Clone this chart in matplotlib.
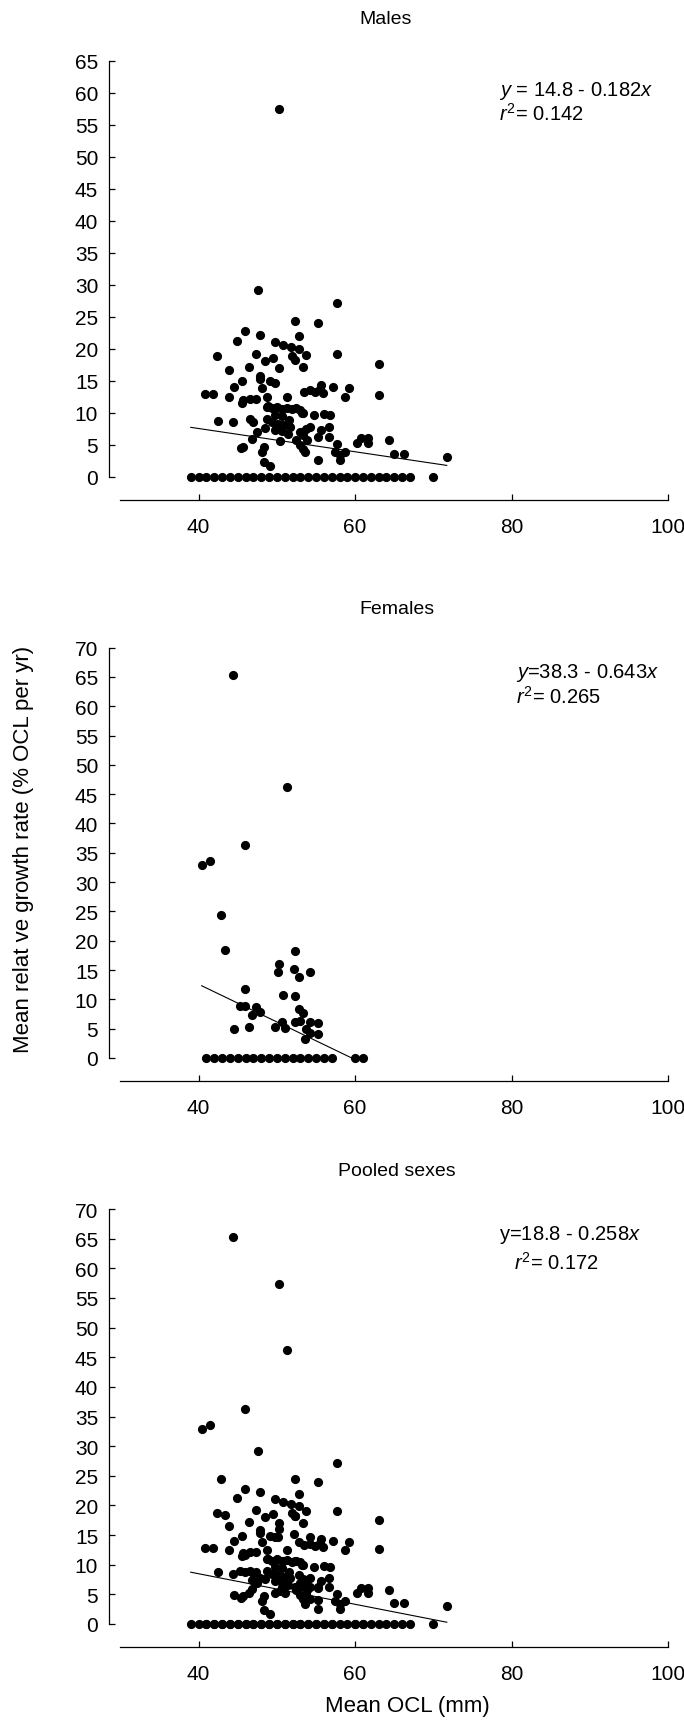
import numpy as np
import matplotlib.pyplot as plt

plt.rcParams['font.family'] = ['Liberation Sans', 'DejaVu Sans']
plt.rcParams['mathtext.fontset'] = 'custom'
plt.rcParams['mathtext.rm'] = 'Liberation Sans'
plt.rcParams['mathtext.it'] = 'Liberation Sans:italic'

# Males: non-zero growth records (mean OCL mm, growth % OCL per yr)
males_x = [50.3, 47.6, 57.7, 52.3, 55.3, 45.9, 47.8, 52.8, 44.9, 49.8,
           50.8, 51.8, 52.8, 53.7, 42.4, 47.3, 49.5, 48.5, 51.9, 52.3,
           57.7, 46.4, 50.3, 53.4, 63.0, 43.9, 47.9, 47.9, 45.5, 49.1,
           49.8, 44.5, 48.1, 55.7, 57.2, 59.2, 53.5, 54.2, 54.9, 55.5,
           55.9, 40.8, 41.9, 43.9, 45.7, 46.6, 47.3, 45.6, 48.8, 51.3,
           58.7, 63.1, 48.9, 48.7, 49.4, 50.0, 50.6, 51.3, 51.9, 52.5,
           53.0, 53.4, 54.7, 56.0, 56.8, 48.7, 49.8, 50.6, 51.5, 53.2,
           42.5, 44.4, 46.6, 47.0, 49.4, 50.1, 50.8, 51.7, 49.8, 50.6,
           48.5, 53.0, 53.4, 53.8, 47.5, 53.7, 54.2, 55.7, 56.7, 46.8,
           45.7, 45.4, 48.3, 48.1, 48.4, 49.1, 50.4, 51.4, 52.5, 53.0,
           53.4, 53.6, 55.3, 56.6, 57.7, 57.4, 58.0, 58.0, 58.7, 55.2,
           60.2, 60.8, 61.7, 61.7, 64.3, 65.0, 66.2, 71.7]
males_y = [57.4, 29.1, 27.1, 24.4, 24.0, 22.8, 22.2, 22.0, 21.2, 21.1,
           20.6, 20.2, 19.9, 19.0, 18.8, 19.2, 18.5, 18.1, 18.8, 18.2,
           19.1, 17.2, 17.0, 17.1, 17.6, 16.6, 15.8, 15.3, 14.9, 14.9,
           14.6, 14.0, 13.9, 14.3, 14.0, 13.8, 13.3, 13.5, 13.2, 13.7,
           13.0, 12.9, 12.9, 12.5, 11.9, 12.1, 12.2, 11.5, 12.4, 12.4,
           12.5, 12.7, 11.0, 10.9, 10.7, 10.9, 10.6, 10.8, 10.5, 10.7,
           10.4, 10.0, 9.6, 9.8, 9.6, 9.0, 9.6, 9.4, 8.8, 9.9,
           8.7, 8.5, 9.0, 8.6, 8.5, 8.2, 8.0, 7.8, 7.3, 7.1,
           7.6, 7.0, 6.5, 5.7, 7.0, 7.5, 7.8, 7.3, 7.8, 5.9,
           4.7, 4.4, 4.7, 3.9, 2.3, 1.7, 5.5, 6.6, 5.7, 4.9,
           4.3, 3.9, 6.2, 6.2, 5.1, 3.9, 3.4, 2.6, 3.9, 2.6,
           5.2, 6.0, 6.0, 5.2, 5.7, 3.6, 3.5, 3.1]
males_zero_x = [39, 40, 41, 42, 43, 44, 45, 46, 47, 48, 49, 50, 51, 52, 53,
                54, 55, 56, 57, 58, 59, 60, 61, 62, 63, 64, 65, 66, 67, 70]

# Females
females_x = [44.4, 51.3, 45.9, 40.4, 41.4, 42.9, 43.4, 52.3, 50.3, 50.1,
             52.2, 52.8, 54.2, 45.9, 50.8, 52.3, 45.3, 45.9, 47.3, 47.9,
             46.8, 52.8, 53.3, 52.3, 52.9, 50.6, 49.8, 51.1, 44.5, 46.4,
             54.2, 55.3, 53.7, 54.2, 55.3, 53.6]
females_y = [65.3, 46.2, 36.3, 32.9, 33.6, 24.4, 18.4, 18.2, 16.0, 14.6,
             15.1, 13.9, 14.7, 11.7, 10.7, 10.6, 8.9, 8.8, 8.7, 7.8,
             7.4, 8.3, 7.6, 6.2, 6.3, 6.2, 5.3, 5.2, 4.9, 5.3,
             6.2, 6.0, 5.0, 4.2, 4.1, 3.3]
females_zero_x = [41, 42, 43, 44, 45, 46, 47, 48, 49, 50, 51, 52, 53, 54,
                  55, 56, 57, 60, 61]

panel_titles = ['Males', 'Females', 'Pooled sexes']
fit_intercepts = [14.8, 38.3, 18.8]
fit_slopes = [-0.182, -0.643, -0.258]
eq_texts = ['$y$ = 14.8 - 0.182$x$', '$y$=38.3 - 0.643$x$', 'y=18.8 - 0.258$x$']
r2_texts = ['$r^2$= 0.142', '$r^2$= 0.265', '$r^2$= 0.172']
y_tops = [65, 70, 70]

def full(xs, ys, zx):
    return list(xs) + list(zx), list(ys) + [0] * len(zx)

mx, my = full(males_x, males_y, males_zero_x)
fx, fy = full(females_x, females_y, females_zero_x)
series = [(mx, my), (fx, fy), (mx + fx, my + fy)]

W, H = 684, 1731
fig = plt.figure(figsize=(W / 100, H / 100), dpi=100)

# pixel layout: (top of y spine, zero line, x axis line)
layout = [(61.8, 477.6, 501), (648.6, 1059, 1082), (1210, 1625, 1648)]
title_pos = [(386, 19), (397, 610), (397, 1171)]
eq_pos = [(499, 91.5, 499, 113.6), (516, 673, 516, 697), (499, 1235, 514, 1263)]
left_px, right_px = 109.3, 676.2
xmin, xmax = 28.6, 101.0

for i in range(3):
    top, zero, axis = layout[i]
    ax = fig.add_axes([left_px / W, 1 - axis / H, (right_px - left_px) / W, (axis - top) / H])
    ytop = y_tops[i]
    ybot = -ytop * (axis - zero) / (zero - top)
    x, y = series[i]
    ax.plot(x, y, 'o', color='black', ms=6.6, mec='black', mew=0, clip_on=False)
    a, b = fit_intercepts[i], fit_slopes[i]
    x0 = min(x)
    x1 = min(max(x), -a / b)
    xs = np.array([x0, x1])
    ax.plot(xs, a + b * xs, color='black', lw=0.8)
    ax.set_xlim(xmin, xmax)
    ax.set_ylim(ybot, ytop)
    ax.set_yticks(np.arange(0, ytop + 1, 5))
    ax.set_xticks([40, 60, 80, 100])
    for s in ['top', 'right']:
        ax.spines[s].set_visible(False)
    ax.spines['left'].set_bounds(0, ytop)
    ax.spines['bottom'].set_bounds(30, 100)
    ax.spines['left'].set_linewidth(0.9)
    ax.spines['bottom'].set_linewidth(0.9)
    ax.tick_params(axis='y', direction='in', length=4, width=0.9, labelsize=15, pad=8)
    ax.tick_params(axis='x', direction='in', length=4, width=0.9, labelsize=15, pad=12.5)
    tx, ty = title_pos[i]
    fig.text(tx / W, 1 - ty / H, panel_titles[i], ha='center', va='center', fontsize=14)
    ex, ey, rx, ry = eq_pos[i]
    fig.text(ex / W, 1 - ey / H, eq_texts[i], ha='left', va='center', fontsize=14.5)
    fig.text(rx / W, 1 - ry / H, r2_texts[i], ha='left', va='center', fontsize=14.5)

fig.text(24 / W, 1 - 849 / H, 'Mean relat ve growth rate (% OCL per yr)',
         rotation=90, ha='center', va='center', fontsize=16)
fig.text(407 / W, 1 - 1707 / H, 'Mean OCL (mm)', ha='center', va='center', fontsize=16)

fig.savefig('out.png', dpi=100)
